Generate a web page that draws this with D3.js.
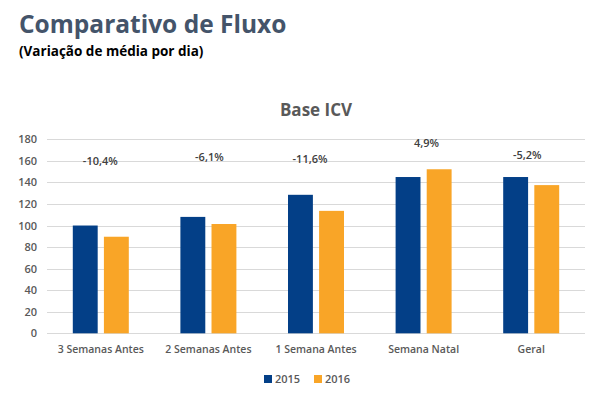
<!DOCTYPE html>
<html><head><meta charset="utf-8">
<script src="https://cdn.jsdelivr.net/npm/d3@7"></script>
<style>body{margin:0;background:#fff;} text{font-family:"Open Sans",sans-serif;}</style>
</head><body>
<svg id="c" width="599" height="396"></svg>
<script>
const categories = ["3 Semanas Antes","2 Semanas Antes","1 Semana Antes","Semana Natal","Geral"];
const series = ["2015","2016"];
const values2015 = [100, 108, 128.5, 145, 145];
const values2016 = [89.6, 101.4, 113.6, 152.2, 137.5];
const pctLabels = ["-10,4%","-6,1%","-11,6%","4,9%","-5,2%"];
const pctLabelY = [159.5, 163.5, 161.5, 176.5, 165.5];
const pctLabelDx = [-0.5, 1, -6, 3, -4];
const yTicks = [0,20,40,60,80,100,120,140,160,180];
const colors = ["#033F87","#F9A527"];

const svg = d3.select("#c");
const x = d3.scaleBand().domain(categories).range([47, 585]);
const y = d3.scaleLinear().domain([0,180]).range([333.3, 139.3]);
const xs = d3.scaleBand().domain(series).range([0, 56]).paddingInner(0.2);

svg.append("text").attr("x",19).attr("y",33).attr("font-size",24.5).attr("font-weight",700)
  .attr("fill","#44546A").text("Comparativo de Fluxo");
svg.append("text").attr("x",19).attr("y",56).attr("font-size",13.5).attr("font-weight",700)
  .attr("fill","#000").text("(Variação de média por dia)");
svg.append("text").attr("x",316).attr("y",116).attr("font-size",17).attr("font-weight",700)
  .attr("text-anchor","middle").attr("fill","#595959").text("Base ICV");

// grid
svg.append("g").selectAll("line").data(yTicks).join("line")
  .attr("x1",47).attr("x2",585).attr("y1",d=>Math.round(y(d))+0.5).attr("y2",d=>Math.round(y(d))+0.5)
  .attr("stroke","#D9D9D9").attr("stroke-width",1);

// y axis
const ya = svg.append("g").attr("transform","translate(37,0)")
  .call(d3.axisLeft(y).tickValues(yTicks).tickSize(0).tickPadding(0));
ya.select(".domain").remove();
ya.selectAll("text").attr("font-family","Open Sans").attr("font-size",11).attr("font-weight",600).attr("fill","#595959");

// bars
const data = categories.map((c,i)=>({c, v:[values2015[i], values2016[i]]}));
const g = svg.append("g").selectAll("g").data(data).join("g")
  .attr("transform",d=>`translate(${x(d.c)+x.bandwidth()/2-28},0)`);
g.selectAll("rect").data(d=>d.v.map((v,j)=>({s:series[j],v,j}))).join("rect")
  .attr("x",d=>xs(d.s)).attr("width",xs.bandwidth())
  .attr("y",d=>y(d.v)).attr("height",d=>y(0)-y(d.v)).attr("fill",d=>colors[d.j]);

// x axis labels
const xa = svg.append("g").attr("transform","translate(0,346)")
  .call(d3.axisBottom(x).tickSize(0).tickPadding(0));
xa.select(".domain").remove();
xa.selectAll("text").attr("font-family","Open Sans").attr("font-size",10.5).attr("font-weight",600).attr("fill","#595959");

// pct labels
svg.append("g").selectAll("text").data(pctLabels).join("text")
  .attr("x",(d,i)=>x(categories[i])+x.bandwidth()/2+pctLabelDx[i])
  .attr("y",(d,i)=>y(pctLabelY[i])+4)
  .attr("text-anchor","middle").attr("font-size",11).attr("font-weight",600).attr("fill","#404040").text(d=>d);

// legend
const lg = svg.append("g").selectAll("g").data(series).join("g")
  .attr("transform",(d,i)=>`translate(${264+i*50},375)`);
lg.append("rect").attr("width",8).attr("height",8).attr("fill",(d,i)=>colors[i]);
lg.append("text").attr("x",11).attr("y",8).attr("font-size",11).attr("font-weight",600).attr("fill","#595959").text(d=>d);
</script>
</body></html>
